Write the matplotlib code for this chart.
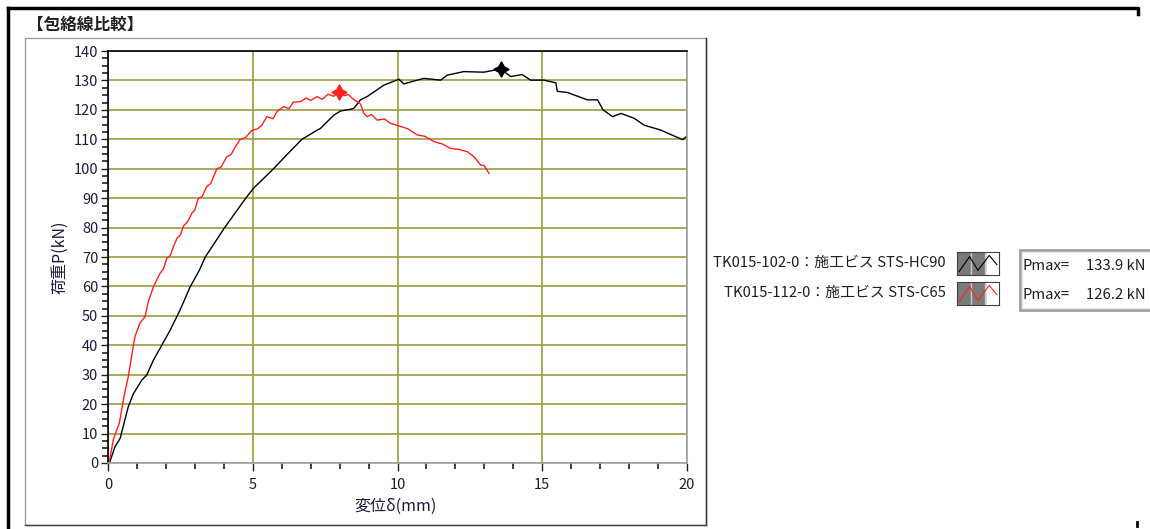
import numpy as np
import matplotlib
matplotlib.use('Agg')
import matplotlib.pyplot as plt
from matplotlib.lines import Line2D
from matplotlib.patches import Rectangle
from matplotlib.ticker import MultipleLocator

plt.rcParams['font.family'] = ['Noto Sans CJK JP', 'DejaVu Sans']

# ---- data ----
# TK015-102-0 : black
disp_b = [0, 0.05, 0.24, 0.42, 0.55, 0.70, 0.88, 1.17, 1.34, 1.57, 1.80, 2.15, 2.49, 2.84,
          3.16, 3.36, 4.03, 4.76, 5.02, 5.72, 6.20, 6.70, 7.22, 7.34, 7.80, 8.03, 8.37,
          8.49, 8.72, 8.95, 9.53, 10.05, 10.22, 10.50, 10.91, 11.49, 11.72, 12.29, 12.98,
          13.56, 13.91, 14.30, 14.60, 15.06, 15.47, 15.52, 15.87, 16.56, 16.91, 17.10,
          17.43, 17.72, 18.18, 18.52, 19.10, 19.56, 19.85, 20.0]
load_b = [0, 0, 5.5, 8.4, 13.4, 19.1, 23.6, 28.2, 29.9, 35.0, 39.0, 45.2, 52.0, 59.9,
          65.6, 70.0, 80.0, 90.0, 93.3, 100.0, 105.0, 110.0, 113.1, 113.7, 118.2, 119.6,
          120.2, 120.5, 123.4, 124.5, 128.4, 130.4, 128.8, 129.6, 130.7, 130.1, 131.8,
          133.0, 132.8, 133.9, 131.3, 132.0, 130.1, 130.1, 129.2, 126.3, 125.9, 123.4,
          123.4, 120.0, 117.7, 118.8, 117.1, 114.8, 113.1, 111.1, 109.9, 111.1]

# TK015-112-0 : red
disp_r = [0, 0.07, 0.18, 0.30, 0.39, 0.55, 0.70, 0.85, 0.93, 1.10, 1.28, 1.39, 1.57, 1.80,
          1.92, 2.03, 2.15, 2.26, 2.38, 2.50, 2.61, 2.75, 2.90, 3.00, 3.12, 3.25, 3.41,
          3.55, 3.76, 3.90, 4.10, 4.25, 4.40, 4.57, 4.75, 4.97, 5.15, 5.30, 5.49, 5.70,
          5.85, 6.07, 6.25, 6.40, 6.64, 6.85, 7.00, 7.22, 7.40, 7.60, 7.80, 7.97, 8.15,
          8.30, 8.49, 8.72, 8.84, 8.95, 9.10, 9.30, 9.55, 9.76, 10.10, 10.35, 10.68, 10.95,
          11.26, 11.55, 11.83, 12.10, 12.41, 12.64, 12.87, 13.00, 13.16]
load_r = [0, 1.6, 7.8, 11.2, 13.5, 22.5, 29.3, 38.4, 42.9, 47.5, 49.7, 54.8, 59.9, 64.5,
          66.0, 69.6, 70.5, 73.5, 76.3, 77.5, 80.6, 82.0, 84.9, 86.0, 90.0, 90.5, 93.9,
          95.0, 100.0, 100.5, 104.0, 104.8, 107.5, 110.0, 110.6, 113.0, 113.5, 114.6,
          117.7, 117.0, 119.6, 121.1, 120.4, 122.6, 122.8, 124.0, 123.2, 124.5, 123.6,
          125.3, 124.6, 126.2, 124.8, 125.2, 123.5, 122.0, 118.8, 117.7, 118.4, 116.5,
          116.9, 115.4, 114.4, 113.6, 111.5, 111.0, 109.2, 108.4, 106.9, 106.6, 105.8,
          104.1, 101.3, 101.0, 98.4]

peak_x = [13.56, 7.97]
pmax = [133.9, 126.2]
labels = ['TK015-102-0：施工ビス STS-HC90', 'TK015-112-0：施工ビス STS-C65']
colors = ['black', '#ff2020']

W, H = 1150, 529
fig = plt.figure(figsize=(W / 100, H / 100), dpi=100)

def fx(px):
    return px / W

def fy(py):
    return 1 - py / H

# outer frame
fig.add_artist(Line2D([fx(8), fx(1138), fx(1138)], [fy(8), fy(8), fy(14)],
                      transform=fig.transFigure, color='black', lw=2.5))
fig.add_artist(Line2D([fx(8), fx(8)], [fy(8), fy(529)],
                      transform=fig.transFigure, color='black', lw=2.5))
fig.add_artist(Line2D([fx(1137), fx(1137)], [fy(522), fy(526)],
                      transform=fig.transFigure, color='black', lw=2))
# inner panel
fig.add_artist(Rectangle((fx(25), fy(525)), fx(706) - fx(25), fy(38) - fy(525),
                         transform=fig.transFigure, fill=False, ec='#a0a0a0', lw=1))
fig.add_artist(Line2D([fx(706), fx(706)], [fy(38), fy(525)],
                      transform=fig.transFigure, color='#303030', lw=1))
fig.add_artist(Line2D([fx(25), fx(706)], [fy(525), fy(525)],
                      transform=fig.transFigure, color='#404040', lw=1))

fig.text(fx(27), fy(25), '【包絡線比較】', fontsize=12, fontweight='bold',
         ha='left', va='center', color='#202020')

# main plot
ax = fig.add_axes([fx(108), fy(463), fx(687) - fx(108), fy(51) - fy(463)])
ax.set_xlim(0, 20)
ax.set_ylim(0, 140)
ax.xaxis.set_major_locator(MultipleLocator(5))
ax.xaxis.set_minor_locator(MultipleLocator(1))
ax.yaxis.set_major_locator(MultipleLocator(10))
ax.yaxis.set_minor_locator(MultipleLocator(2.5))
ax.grid(True, which='major', color='#9c9c3c', lw=1.2)
ax.set_axisbelow(True)
tc = '#1c1c3c'
ax.tick_params(which='major', direction='out', length=5, width=1, color='#202020',
               labelsize=10.5, labelcolor=tc, pad=2)
ax.tick_params(which='minor', direction='out', length=4, width=1.2, color='#202020')
ax.tick_params(axis='x', which='major', length=6, pad=5)
ax.spines['left'].set_color('black')
ax.spines['top'].set_color('black')
ax.spines['right'].set_color('#a0a0a0')
ax.spines['bottom'].set_color('#a0a0a0')
for s in ax.spines.values():
    s.set_linewidth(1.2)

ax.plot(disp_b, load_b, color=colors[0], lw=1)
ax.plot(disp_r, load_r, color=colors[1], lw=1)
for px, pv, c in zip(peak_x, pmax, colors):
    ax.plot(px, pv, marker=(4, 1, 0), ms=11, color=c, mec=c)

fig.text(fx(60), fy(257), '荷重P(kN)', rotation=90, fontsize=11.5, color=tc,
         ha='center', va='center')
fig.text(fx(395), fy(506), '変位δ(mm)', fontsize=11.5, color=tc,
         ha='center', va='center')

# legend
leg_y = [263, 293]
for lab, c, yy in zip(labels, colors, leg_y):
    fig.text(fx(946), fy(yy), lab, fontsize=10.7, color='#202020',
             ha='right', va='center')
    sw = fig.add_axes([fx(957), fy(yy + 12), fx(42), 23 / H])
    sw.set_xlim(0, 3)
    sw.set_ylim(0, 1)
    sw.add_patch(Rectangle((0, 0), 2, 1, color='#7a7a7a'))
    sw.axvline(1, color='#c8c8c8', lw=1)
    sw.axvline(2, color='#c8c8c8', lw=1)
    sw.plot([0.15, 0.9, 1.5, 2.3, 2.85], [0.15, 0.8, 0.2, 0.85, 0.45], color=c, lw=0.8)
    sw.set_xticks([])
    sw.set_yticks([])
    for s in sw.spines.values():
        s.set_color('#404040')
        s.set_linewidth(0.8)

# Pmax box
fig.add_artist(Rectangle((fx(1020), fy(310)), fx(131), 60 / H,
                         transform=fig.transFigure, fill=False, ec='#a0a0a0', lw=2))
fig.add_artist(Rectangle((fx(1022), fy(308)), fx(130), 56 / H,
                         transform=fig.transFigure, fill=False, ec='#e8e8e8', lw=1))
for pv, yy in zip(pmax, [266, 295]):
    fig.text(fx(1023), fy(yy), 'Pmax=', fontsize=10.7, color='#202020',
             ha='left', va='center')
    fig.text(fx(1086), fy(yy), f'{pv:.1f} kN', fontsize=10.7, color='#202020',
             ha='left', va='center')

fig.savefig('out.png', dpi=100)
